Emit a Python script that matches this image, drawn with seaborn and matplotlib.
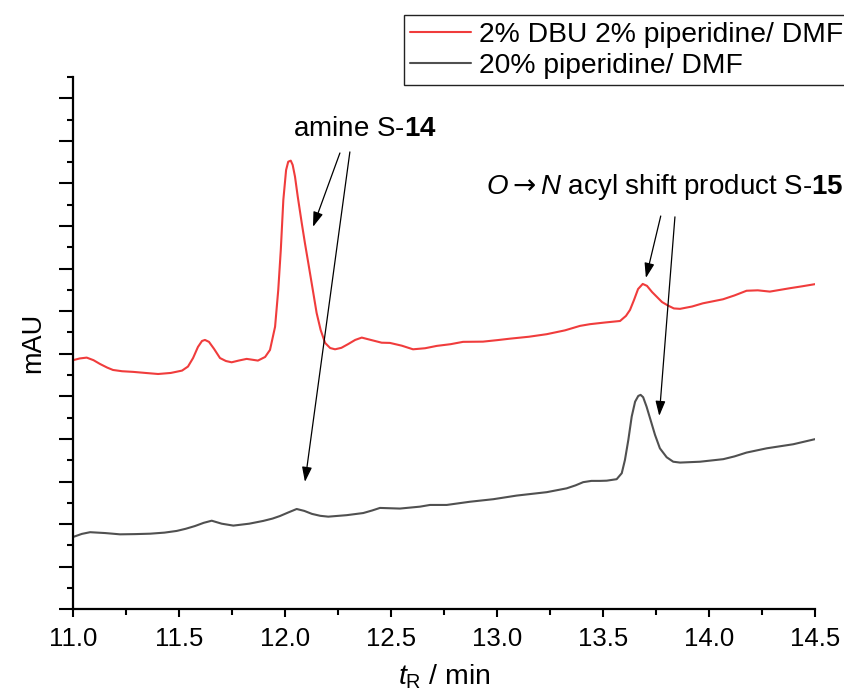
import numpy as np
import pandas as pd
import matplotlib
matplotlib.use("Agg")
import matplotlib.pyplot as plt
from matplotlib.ticker import MultipleLocator, NullFormatter
from matplotlib.lines import Line2D
import seaborn as sns

# ---- data ----
t_dbu = [11.003, 11.030, 11.063, 11.095, 11.126, 11.160, 11.187, 11.230, 11.282, 11.340,
         11.400, 11.460, 11.513, 11.541, 11.565, 11.588, 11.607, 11.621, 11.640, 11.664,
         11.692, 11.720, 11.747, 11.780, 11.818, 11.845, 11.871, 11.905, 11.928, 11.952,
         11.967, 11.979, 11.991, 12.004, 12.014, 12.026, 12.035, 12.046, 12.059, 12.078,
         12.093, 12.109, 12.130, 12.148, 12.167, 12.188, 12.212, 12.235, 12.265, 12.296,
         12.330, 12.361, 12.400, 12.455, 12.494, 12.550, 12.603, 12.660, 12.715, 12.780,
         12.839, 12.933, 13.000, 13.061, 13.150, 13.234, 13.320, 13.391, 13.438, 13.510,
         13.580, 13.608, 13.627, 13.646, 13.665, 13.687, 13.707, 13.731, 13.753, 13.778,
         13.807, 13.834, 13.863, 13.920, 13.971, 14.066, 14.120, 14.177, 14.230, 14.287,
         14.382, 14.440, 14.500]
y_dbu = [11.71, 11.78, 11.82, 11.70, 11.52, 11.35, 11.24, 11.18, 11.15, 11.10,
         11.05, 11.10, 11.21, 11.40, 11.80, 12.32, 12.60, 12.65, 12.56, 12.23,
         11.80, 11.66, 11.60, 11.68, 11.76, 11.72, 11.68, 11.85, 12.18, 13.27,
         15.00, 16.88, 19.23, 20.63, 21.02, 21.07, 20.87, 20.32, 19.38, 18.13,
         17.19, 16.25, 15.00, 13.92, 13.12, 12.51, 12.27, 12.21, 12.28, 12.45,
         12.65, 12.76, 12.66, 12.52, 12.51, 12.38, 12.21, 12.26, 12.37, 12.45,
         12.56, 12.57, 12.64, 12.71, 12.80, 12.92, 13.10, 13.31, 13.39, 13.47,
         13.54, 13.78, 14.06, 14.53, 15.04, 15.28, 15.19, 14.90, 14.68, 14.43,
         14.26, 14.13, 14.11, 14.22, 14.37, 14.56, 14.74, 14.96, 14.98, 14.92,
         15.08, 15.17, 15.27]

t_pip = [11.003, 11.040, 11.079, 11.150, 11.220, 11.290, 11.362, 11.430, 11.488, 11.530,
         11.574, 11.615, 11.653, 11.700, 11.755, 11.830, 11.896, 11.940, 11.975, 12.015,
         12.054, 12.090, 12.126, 12.165, 12.203, 12.290, 12.368, 12.410, 12.447, 12.541,
         12.636, 12.683, 12.762, 12.871, 12.982, 13.092, 13.234, 13.328, 13.370, 13.406,
         13.445, 13.485, 13.517, 13.564, 13.588, 13.603, 13.619, 13.635, 13.651, 13.666,
         13.677, 13.689, 13.705, 13.724, 13.745, 13.768, 13.800, 13.831, 13.863, 13.957,
         14.067, 14.120, 14.177, 14.272, 14.397, 14.500]
y_pip = [3.41, 3.54, 3.62, 3.58, 3.52, 3.53, 3.55, 3.60, 3.68, 3.78,
         3.91, 4.06, 4.16, 4.02, 3.93, 4.02, 4.15, 4.26, 4.38, 4.55,
         4.71, 4.62, 4.48, 4.39, 4.35, 4.42, 4.52, 4.64, 4.76, 4.73,
         4.82, 4.90, 4.90, 5.05, 5.17, 5.34, 5.50, 5.68, 5.82, 5.97,
         6.03, 6.03, 6.04, 6.11, 6.39, 7.01, 7.95, 9.05, 9.75, 10.02,
         10.07, 9.96, 9.52, 8.89, 8.19, 7.56, 7.14, 6.93, 6.89, 6.93,
         7.05, 7.18, 7.36, 7.56, 7.75, 7.99]

labels = ["2% DBU 2% piperidine/ DMF", "20% piperidine/ DMF"]
colors = ["#f03c3c", "#505050"]
x_ticks = [11.0, 11.5, 12.0, 12.5, 13.0, 13.5, 14.0, 14.5]

df = pd.concat([
    pd.DataFrame({"t": t_dbu, "y": y_dbu, "cond": labels[0]}),
    pd.DataFrame({"t": t_pip, "y": y_pip, "cond": labels[1]}),
])

sns.set_style("ticks")
plt.rcParams["font.family"] = ["Liberation Sans", "DejaVu Sans"]
plt.rcParams["mathtext.fontset"] = "custom"
plt.rcParams["mathtext.rm"] = "Liberation Sans"
plt.rcParams["mathtext.it"] = "Liberation Sans:italic"
plt.rcParams["mathtext.bf"] = "Liberation Sans:bold"
plt.rcParams["mathtext.sf"] = "DejaVu Sans"
plt.rcParams["text.color"] = "black"
plt.rcParams["axes.labelcolor"] = "black"
plt.rcParams["xtick.color"] = "black"
plt.rcParams["ytick.color"] = "black"

fig = plt.figure(figsize=(8.45, 6.96), dpi=100)
ax = fig.add_axes([0.0868, 0.1246, 0.8777, 0.7648])

sns.lineplot(data=df, x="t", y="y", hue="cond", palette=dict(zip(labels, colors)),
             sort=False, estimator=None, linewidth=1.5, ax=ax, legend=False)
for ln in ax.get_lines():
    ln.set_solid_joinstyle("round")
    ln.set_solid_capstyle("round")

ax.set_xlim(11.0, 14.5)
ax.set_ylim(0, 25)
ax.set_xticks(x_ticks)
ax.set_xticklabels([f"{v:.1f}" for v in x_ticks], fontsize=18.5, color="black")
ax.xaxis.set_minor_locator(MultipleLocator(0.25))
ax.yaxis.set_major_locator(MultipleLocator(2))
ax.yaxis.set_minor_locator(MultipleLocator(1))
ax.yaxis.set_major_formatter(NullFormatter())
ax.tick_params(axis="x", which="major", direction="out", length=6, width=1.5, pad=7)
ax.tick_params(axis="x", which="minor", direction="out", length=4, width=1.5)
ax.tick_params(axis="y", which="major", direction="out", length=10, width=1.5)
ax.tick_params(axis="y", which="minor", direction="out", length=4.5, width=1.5)
for s in ["top", "right"]:
    ax.spines[s].set_visible(False)
for s in ["left", "bottom"]:
    ax.spines[s].set_linewidth(1.6)
    ax.spines[s].set_color("black")

ax.set_xlabel(r"$t_\mathrm{R}$ / min", fontsize=20.5, labelpad=8, color="black")
ax.set_ylabel("mAU", fontsize=19.5, labelpad=6, color="black")

# annotations
ax.text(12.376, 22.56, r"amine S-$\mathbf{14}$", fontsize=20, ha="center", va="center",
        color="black")
ax.text(13.792, 19.83, r"$O\mathsf{\rightarrow}N$ acyl shift product S-$\mathbf{15}$",
        fontsize=20, ha="center", va="center", color="black")
arrows = [((12.258, 21.43), (12.131, 17.96)),
          ((12.305, 21.48), (12.093, 5.98)),
          ((13.772, 18.47), (13.702, 15.56)),
          ((13.839, 18.43), (13.765, 9.08))]
for (x0, y0), (x1, y1) in arrows:
    ax.annotate("", xy=(x1, y1), xytext=(x0, y0),
                arrowprops=dict(arrowstyle="-|>,head_length=0.9,head_width=0.3",
                                color="black", lw=0.9, shrinkA=0, shrinkB=0))

handles = [Line2D([], [], color=c, lw=1.5) for c in colors]
leg = fig.legend(handles, labels, loc="upper left", bbox_to_anchor=(0.478, 0.978),
                 fontsize=20.3, frameon=True, fancybox=False, framealpha=1,
                 edgecolor="#222222", handlelength=2.15, handletextpad=0.28,
                 labelspacing=0.2, borderpad=0.22, borderaxespad=0)
leg.get_frame().set_linewidth(1.0)
for txt in leg.get_texts():
    txt.set_color("black")

fig.savefig("out.png", dpi=100)
